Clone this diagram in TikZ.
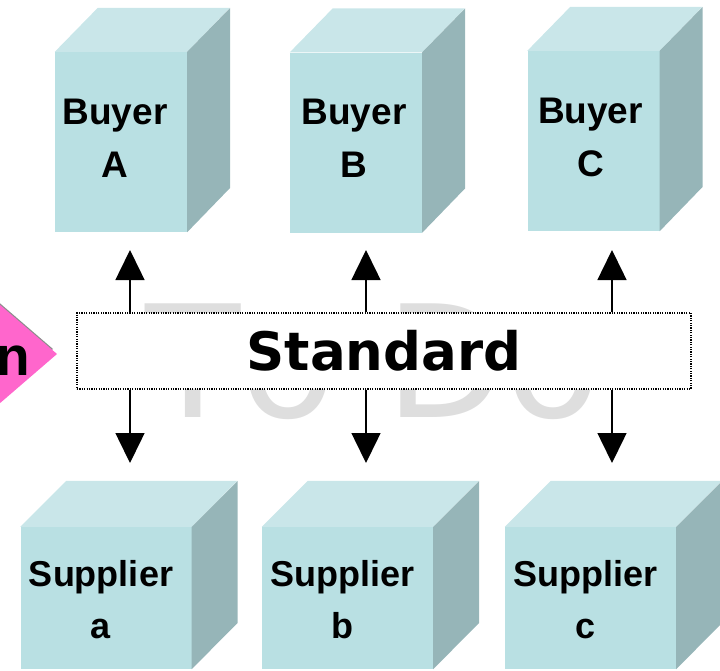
\documentclass[tikz,border=0pt]{standalone}
\usepackage{fontspec}
\setmainfont{Liberation Sans}
\newfontfamily\stdfont{DejaVu Sans}
\newfontfamily\markfont[Kerning=Off]{DejaVu Sans}
\usetikzlibrary{arrows.meta}
\definecolor{cubefront}{RGB}{185,224,227}
\definecolor{cubetop}{RGB}{201,230,233}
\definecolor{cubeside}{RGB}{150,181,184}
\definecolor{rhombpink}{RGB}{255,102,204}

\begin{document}
\begin{tikzpicture}[x=1pt,y=-1pt,
  buyer/.style={fill=cubefront,inner sep=0pt,minimum width=132pt,minimum height=180pt},
  supplier/.style={fill=cubefront,inner sep=0pt,minimum width=171pt,minimum height=142pt},
  buyertext/.style={inner sep=0pt,align=center,font=\bfseries\fontsize{37}{53}\selectfont},
  suppliertext/.style={inner sep=0pt,align=center,font=\bfseries\fontsize{36}{52}\selectfont},
  link/.style={line width=1.5pt,-{Triangle[length=30pt,width=29pt]}}]

\useasboundingbox (0,0) rectangle (720,670);
\clip (0,0) rectangle (720,670);

\node[anchor=base west,inner sep=0pt,text=black!13,font=\markfont\fontsize{156}{156}\selectfont] (todo) at (145,417) {To Do};

\node[draw,fill=white,line width=1.2pt,dash pattern=on 1.2pt off 1.2pt,inner sep=0pt,minimum width=614pt,minimum height=76pt,font=\stdfont\bfseries\fontsize{53}{60}\selectfont] (std) at (384,351) {Standard};

\node[buyer] (ba) at (121,142) {};
\node[buyer] (bb) at (356,142.5) {};
\node[buyer] (bc) at (593.5,141) {};

\fill[cubetop] (ba.north west) -- ++(43,-44) -- ++(132,0) -- (ba.north east) -- cycle;
\fill[cubeside] (ba.north east) -- ++(43,-44) -- ++(0,180) -- (ba.south east) -- cycle;
\fill[cubetop] (bb.north west) -- ++(43,-44) -- ++(132,0) -- (bb.north east) -- cycle;
\fill[cubeside] (bb.north east) -- ++(43,-44) -- ++(0,180) -- (bb.south east) -- cycle;
\fill[cubetop] (bc.north west) -- ++(43,-44) -- ++(132,0) -- (bc.north east) -- cycle;
\fill[cubeside] (bc.north east) -- ++(43,-44) -- ++(0,180) -- (bc.south east) -- cycle;

\node[buyertext] (baname) at ([shift={(-6,-4)}]ba.center) {Buyer\\A};
\node[buyertext] (bbname) at ([shift={(-2,-4)}]bb.center) {Buyer\\B};
\node[buyertext] (bcname) at ([shift={(-3,-4)}]bc.center) {Buyer\\C};

\node[supplier] (sa) at (106,598) {};
\node[supplier] (sb) at (347.5,598) {};
\node[supplier] (sc) at (590.5,598) {};

\fill[cubetop] (sa.north west) -- ++(46,-46) -- ++(171,0) -- (sa.north east) -- cycle;
\fill[cubeside] (sa.north east) -- ++(46,-46) -- ++(0,142) -- (sa.south east) -- cycle;
\fill[cubetop] (sb.north west) -- ++(46,-46) -- ++(171,0) -- (sb.north east) -- cycle;
\fill[cubeside] (sb.north east) -- ++(46,-46) -- ++(0,142) -- (sb.south east) -- cycle;
\fill[cubetop] (sc.north west) -- ++(46,-46) -- ++(171,0) -- (sc.north east) -- cycle;
\fill[cubeside] (sc.north east) -- ++(46,-46) -- ++(0,142) -- (sc.south east) -- cycle;

\node[suppliertext] (saname) at ([shift={(-5,2)}]sa.center) {Supplier\\a};
\node[suppliertext] (sbname) at ([shift={(-5,2)}]sb.center) {Supplier\\b};
\node[suppliertext] (scname) at ([shift={(-5,2)}]sc.center) {Supplier\\c};

\coordinate (ua) at (130,250);
\coordinate (ub) at (366,250);
\coordinate (uc) at (612,250);
\coordinate (da) at (130,463);
\coordinate (db) at (366,463);
\coordinate (dc) at (612,463);

\draw[link] (std.north -| ua) -- (ua);
\draw[link] (std.north -| ub) -- (ub);
\draw[link] (std.north -| uc) -- (uc);
\draw[link] (std.south -| da) -- (da);
\draw[link] (std.south -| db) -- (db);
\draw[link] (std.south -| dc) -- (dc);

\fill[black!45] (53,349) -- (-34,274) -- (-121,349) -- (-34,424) -- cycle;
\fill[rhombpink] (57,354) -- (-30,279) -- (-117,354) -- (-30,429) -- cycle;
\node[anchor=base east,inner sep=0pt,font=\bfseries\fontsize{55}{55}\selectfont] (tail) at (30,375) {n};

\end{tikzpicture}
\end{document}
